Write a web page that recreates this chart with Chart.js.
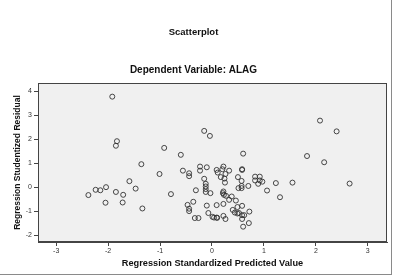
<!DOCTYPE html>
<html lang="en">
  <head>
    <meta charset="utf-8">
    <style>
      body { margin: 0; background: #fff; }
      #wrap { position: relative; width: 400px; height: 280px; }
      #frame { position: absolute; left: -2px; top: -2px; width: 394px; height: 277px; border: 1px solid #8a8a8a; box-sizing: border-box; pointer-events: none; }
    </style>
  </head>
  <body>
    <div id="wrap">
      <canvas id="myChart" width="400" height="280"></canvas>
      <div id="frame"></div>
    </div>
    <script src="https://cdn.jsdelivr.net/npm/chart.js"></script>
    <script>
      const chartTitle = 'Scatterplot';
      const chartSubtitle = 'Dependent Variable: ALAG';
      const xTitle = 'Regression Standardized Predicted Value';
      const yTitle = 'Regression Studentized Residual';
      const xTicks = [-3, -2, -1, 0, 1, 2, 3];
      const yTicks = [-2, -1, 0, 1, 2, 3, 4];

      // standardized predicted values
      const predicted = [
        -1.92, -1.83, -1.85, -0.92, -0.60, -0.15, -0.04, -1.36, -1.01, -0.56,
        -0.44, -0.44, -0.23, -0.23, -0.10, -1.59, -2.04, -2.24, -2.15, -2.38,
        -1.85, -1.71, -1.47, -2.05, -1.72, -1.34, -0.79, -0.15, -0.31, -0.36,
        -0.47, -0.44, -0.44, -0.33, -0.26, -0.10, -0.07, -0.12, -0.12, -0.12,
        -0.12, -0.03,
        0.60, 0.09, 0.11, 0.20, 0.22, 0.26, 0.33, 0.17, 0.24, 0.25,
        0.58, 0.58, 0.50, 0.57, 0.51, 0.57, 0.57, 0.70, 0.83, 0.92,
        0.83, 0.92, 0.97, 0.89, 1.23, 1.55, 1.06, 1.31, 1.83, 2.16,
        2.08, 2.40, 2.65,
        0.21, 0.23, 0.27, 0.38, 0.33, 0.46, 0.09, 0.22, 0.49, 0.58,
        0.40, 0.44, 0.49, 0.52, 0.72, 0.01, 0.04, 0.09, 0.10, 0.22,
        0.26, 0.58, 0.62, 0.58, 0.71, 0.60, 0.22
      ];
      // studentized residuals
      const residual = [
        3.78, 1.92, 1.73, 1.64, 1.35, 2.35, 2.14, 0.96, 0.55, 0.69,
        0.58, 0.46, 0.86, 0.69, 0.83, 0.25, 0.00, -0.11, -0.13, -0.33,
        -0.20, -0.32, -0.06, -0.65, -0.64, -0.89, -0.29, 0.35, -0.13, -0.61,
        -0.74, -0.90, -1.00, -1.29, -1.29, -0.77, -1.08, 0.14, 0.03, -0.08,
        -0.20, -0.25,
        1.40, 0.72, 0.61, 0.75, 0.86, 0.55, 0.69, 0.42, 0.36, 0.19,
        0.72, 0.75, 0.42, 0.26, -0.04, -0.04, 0.05, 0.05, 0.44, 0.44,
        0.28, 0.28, 0.23, 0.14, 0.17, 0.19, -0.14, -0.42, 1.30, 1.04,
        2.78, 2.33, 0.15,
        -0.25, -0.32, -0.36, -0.39, -0.53, -0.56, -0.75, -0.70, -0.83, -0.78,
        -0.95, -1.06, -1.10, -1.08, -1.02, -1.24, -1.27, -1.27, -1.28, -1.20,
        -1.33, -1.17, -1.17, -1.33, -1.50, -1.65, -0.18
      ];

      const points = predicted.map((x, i) => ({ x: x, y: residual[i] }));
      const fontFamily = "Arial, 'Liberation Sans', sans-serif";

      // grey plot area with a dark frame
      const plotBox = {
        id: 'plotBox',
        beforeDatasetsDraw(chart) {
          const a = chart.chartArea;
          const ctx = chart.ctx;
          ctx.save();
          ctx.fillStyle = '#f0f0f0';
          ctx.fillRect(a.left, a.top, a.right - a.left, a.bottom - a.top);
          ctx.strokeStyle = '#444';
          ctx.lineWidth = 1;
          ctx.strokeRect(a.left + 0.5, a.top + 0.5, a.right - a.left - 1, a.bottom - a.top - 1);
          ctx.restore();
        }
      };

      const config = {
        type: 'scatter',
        data: {
          datasets: [{
            data: points,
            pointStyle: 'circle',
            pointRadius: 2.5,
            pointHoverRadius: 2.5,
            pointBorderWidth: 0.9,
            borderColor: '#333',
            backgroundColor: 'rgba(0,0,0,0)'
          }]
        },
        options: {
          responsive: false,
          animation: false,
          layout: { padding: { left: 0, right: 13, top: 0, bottom: 0 } },
          plugins: {
            legend: { display: false },
            tooltip: { enabled: false },
            title: {
              display: true,
              text: chartTitle,
              color: '#111',
              font: { family: fontFamily, size: 9.5, weight: 'bold', lineHeight: 1.2 },
              padding: { top: 26.3, bottom: 26.3 }
            },
            subtitle: {
              display: true,
              text: chartSubtitle,
              color: '#111',
              font: { family: fontFamily, size: 10, weight: 'bold', lineHeight: 1.2 },
              padding: { top: 0, bottom: 7 }
            }
          },
          scales: {
            x: {
              type: 'linear',
              min: -3.35,
              max: 3.37,
              afterFit(scale) { scale.height = 38; },
              afterBuildTicks(scale) { scale.ticks = xTicks.map(v => ({ value: v })); },
              ticks: { color: '#333', font: { family: fontFamily, size: 7 }, padding: 1 },
              grid: { drawOnChartArea: false, drawTicks: true, tickLength: 4, color: '#444' },
              border: { display: true, color: '#444' },
              title: {
                display: true,
                text: xTitle,
                color: '#111',
                font: { family: fontFamily, size: 9.2, weight: 'bold', lineHeight: 1.2 },
                padding: { top: 0, bottom: 11.5 }
              }
            },
            y: {
              type: 'linear',
              min: -2.29,
              max: 4.35,
              afterFit(scale) { scale.width = 38; },
              afterBuildTicks(scale) { scale.ticks = yTicks.map(v => ({ value: v })); },
              ticks: { color: '#333', font: { family: fontFamily, size: 7 }, padding: 2 },
              grid: { drawOnChartArea: false, drawTicks: true, tickLength: 4, color: '#444' },
              border: { display: true, color: '#444' },
              title: {
                display: true,
                text: yTitle,
                color: '#111',
                font: { family: fontFamily, size: 8.5, weight: 'bold', lineHeight: 1.2 },
                padding: { top: 12.6, bottom: 0 }
              }
            }
          }
        },
        plugins: [plotBox]
      };

      const myChart = new Chart(document.getElementById('myChart'), config);
    </script>
  </body>
</html>
